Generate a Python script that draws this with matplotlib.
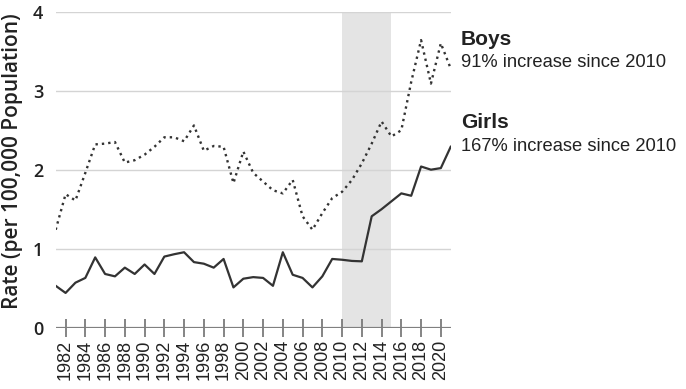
import matplotlib
matplotlib.use("Agg")
import matplotlib.pyplot as plt

years = list(range(1981, 2022))
boys = [1.24, 1.69, 1.61, 1.96, 2.32, 2.33, 2.35, 2.09, 2.12, 2.19,
        2.29, 2.41, 2.41, 2.36, 2.56, 2.24, 2.30, 2.29, 1.83, 2.23,
        1.96, 1.85, 1.74, 1.70, 1.87, 1.41, 1.24, 1.45, 1.64, 1.72,
        1.87, 2.08, 2.33, 2.61, 2.42, 2.50, 3.11, 3.64, 3.09, 3.60, 3.28]
girls = [0.53, 0.44, 0.57, 0.63, 0.89, 0.68, 0.65, 0.76, 0.68, 0.80,
         0.68, 0.90, 0.93, 0.955, 0.83, 0.81, 0.76, 0.87, 0.51, 0.62,
         0.64, 0.63, 0.53, 0.955, 0.67, 0.63, 0.51, 0.65, 0.87, 0.86,
         0.845, 0.84, 1.41, 1.50, 1.60, 1.70, 1.67, 2.04, 2.00, 2.02, 2.29]
xticks = list(range(1982, 2021, 2))
yticks = [0, 1, 2, 3, 4]
shade = (2010, 2015)
labels = [("Boys", "91% increase since 2010"), ("Girls", "167% increase since 2010")]

fig = plt.figure(figsize=(6.86, 3.89), dpi=100)
ax = fig.add_axes([0.0812, 0.1576, 0.5758, 0.8124])

ax.axvspan(shade[0], shade[1], color="#e4e4e4", lw=0, zorder=0)
for y in yticks[1:]:
    ax.axhline(y, color="#d4d4d4", lw=1.0, zorder=1)
ax.axhline(0, color="#808080", lw=1.6, zorder=2)

ax.plot(years, boys, color="#333333", lw=1.7, linestyle=(0, (1, 1.7)),
        dash_capstyle="butt", zorder=3)
ax.plot(years, girls, color="#333333", lw=1.6, zorder=3)

ax.set_xlim(1981, 2021)
ax.set_ylim(0, 4)
for s in ax.spines.values():
    s.set_visible(False)

ax.set_xticks(xticks)
ax.set_xticklabels([str(x) for x in xticks], rotation=90,
                   fontfamily="Liberation Sans", fontsize=13, color="#222222")
ax.tick_params(axis="x", direction="inout", length=13, width=1.2, color="#707070", pad=2)
ax.set_yticks(yticks)
ax.set_yticklabels([str(y) for y in yticks], fontfamily="Open Sans", fontweight="semibold",
                   fontsize=13, color="#222222")
ax.tick_params(axis="y", length=0, pad=9)

ax.set_ylabel("Rate (per 100,000 Population)", fontfamily="Open Sans", fontweight="semibold",
              fontsize=15, color="#222222")
ax.yaxis.set_label_coords(-0.082, 0.527)

fx = 461 / 686
fig.text(fx, 0.884, labels[0][0], fontfamily="Liberation Sans", fontweight="bold",
         fontsize=15, color="#222222", va="baseline")
fig.text(fx, 0.828, labels[0][1], fontfamily="Liberation Sans",
         fontsize=13.2, color="#222222", va="baseline")
fig.text(fx, 0.670, labels[1][0], fontfamily="Liberation Sans", fontweight="bold",
         fontsize=15, color="#222222", va="baseline")
fig.text(fx, 0.613, labels[1][1], fontfamily="Liberation Sans",
         fontsize=13.2, color="#222222", va="baseline")

fig.savefig("out.png", dpi=100)
